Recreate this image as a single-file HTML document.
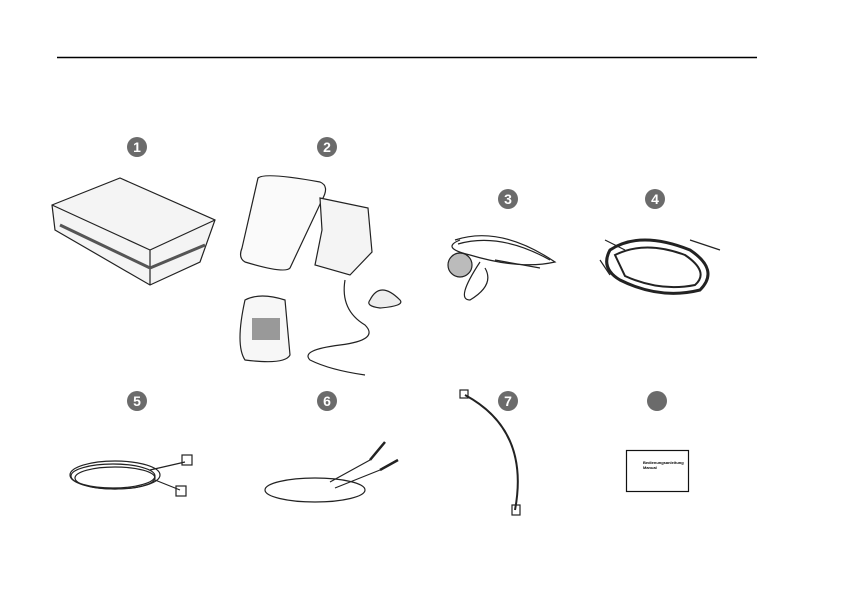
<!DOCTYPE html>
<html><head><meta charset="utf-8"><style>
body{margin:0;background:#fff;width:843px;height:596px;overflow:hidden}
svg{display:block}
text{font-family:"Liberation Sans",sans-serif}
</style></head><body>
<svg width="843" height="596" viewBox="0 0 843 596" xmlns="http://www.w3.org/2000/svg">
<line x1="57" y1="57.5" x2="757" y2="57.5" stroke="#000" stroke-width="1.5"/>
<g fill="#6b6b6b">
<circle cx="137" cy="147" r="10"/><circle cx="327" cy="147" r="10"/>
<circle cx="508" cy="199" r="10"/><circle cx="655" cy="199" r="10"/>
<circle cx="137" cy="401" r="10"/><circle cx="327" cy="401" r="10"/>
<circle cx="508" cy="401" r="10"/><circle cx="657" cy="401" r="10"/>
</g>
<g fill="#fff" font-size="14" font-weight="bold" text-anchor="middle">
<text x="137" y="152">1</text><text x="327" y="152">2</text>
<text x="508" y="204">3</text><text x="655" y="204">4</text>
<text x="137" y="406">5</text><text x="327" y="406">6</text>
<text x="508" y="406">7</text>
</g>
<g fill="none" stroke="#222" stroke-width="1.2">
<path d="M52 205 L120 178 L215 220 L200 262 L150 285 L55 230 Z" fill="#f4f4f4"/>
<path d="M52 205 L150 250 L215 220 M150 250 L150 285"/>
<path d="M60 225 L150 268 L205 245" stroke="#555" stroke-width="3"/>
<path d="M258 178 Q265 172 320 182 Q330 186 322 200 L290 268 Q285 274 245 262 Q238 258 242 248 Z" fill="#fafafa"/>
<path d="M320 198 L368 208 L372 252 L350 275 L315 265 L322 230 Z" fill="#f4f4f4"/>
<path d="M345 280 Q340 310 365 325 Q380 340 340 345 Q300 350 310 360 Q330 370 365 375"/>
<path d="M370 300 Q380 280 400 300 Q405 306 380 308 Q365 306 370 300" fill="#eee"/>
<path d="M245 300 Q260 292 285 300 L290 355 Q285 365 245 360 Q235 345 245 300Z" fill="#f7f7f7"/>
<rect x="252" y="318" width="28" height="22" fill="#999" stroke="none"/>
<path d="M455 240 Q500 225 555 262 Q520 270 470 255 Q440 248 460 240"/>
<path d="M458 244 Q500 232 550 260"/>
<path d="M480 262 Q455 300 470 300 Q495 285 485 268 M495 260 L540 268"/>
<circle cx="460" cy="265" r="12" fill="#bbb"/>
<path d="M610 250 Q640 230 690 250 Q720 270 700 290 Q660 300 620 280 Q600 268 610 250 Z" stroke-width="3"/>
<path d="M615 255 Q645 240 685 255 Q710 272 695 285 Q660 292 625 276 Z" stroke-width="2"/>
<path d="M605 240 L625 250 M690 240 L720 250 M600 260 L610 275"/>
<ellipse cx="115" cy="475" rx="45" ry="14"/><ellipse cx="115" cy="478" rx="40" ry="11"/>
<ellipse cx="113" cy="476" rx="42" ry="12"/>
<path d="M150 470 L185 462 M155 480 L180 490"/>
<rect x="182" y="455" width="10" height="10"/><rect x="176" y="486" width="10" height="10"/>
<ellipse cx="315" cy="490" rx="50" ry="12"/><path d="M330 482 L370 460 M335 488 L380 470"/>
<path d="M370 460 L385 442" stroke-width="2.5"/><path d="M380 470 L398 460" stroke-width="2.5"/>
<path d="M465 395 Q530 430 515 510" stroke-width="2"/>
<rect x="460" y="390" width="8" height="8"/><rect x="512" y="505" width="8" height="10"/>
</g>
<rect x="626.5" y="450.5" width="62" height="41" fill="#fff" stroke="#111" stroke-width="1.2"/>
<text x="643" y="464" font-size="4" font-weight="bold">Bedienungsanleitung</text>
<text x="643" y="469" font-size="4" font-weight="bold">Manual</text>
</svg>
</body></html>
